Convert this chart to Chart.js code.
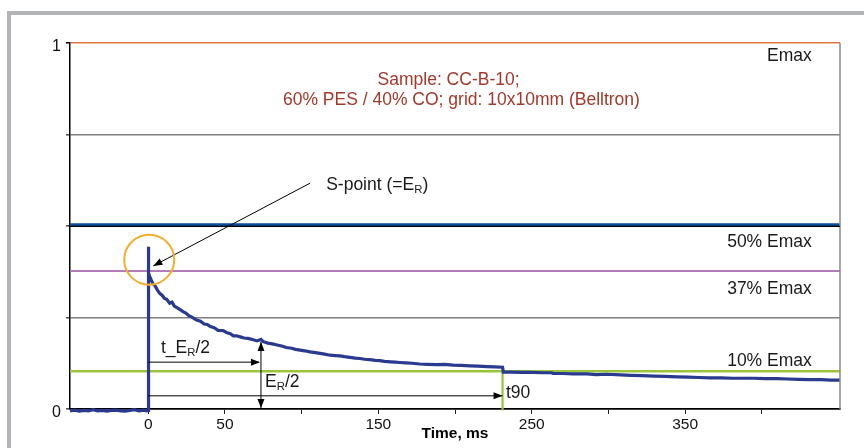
<!DOCTYPE html>
<html>
<head>
<meta charset="utf-8">
<script src="https://cdn.jsdelivr.net/npm/chart.js@4.4.1/dist/chart.umd.min.js"></script>
<style>
  html, body { margin: 0; padding: 0; background: #fff; }
  #wrap { width: 864px; height: 448px; }
</style>
</head>
<body>
<div id="wrap"><canvas id="chart" width="864" height="448"></canvas></div>
<script>
// ── Data ─────────────────────────────────────────────

// time axis of the recorded signal, ms
const timeMs = [
  -51, -48, -45, -42, -39, -36, -33, -30, -27, -24, -21, -18, -15, -12, -9, -6, -3, -1, 0, 0, 0.4,
  1, 2, 3, 4.5, 6, 7.5, 9, 10.5, 12, 14, 15.5, 17, 19, 21, 22.7, 24.5, 26.5, 28.5, 31.5, 34,
  36.5, 38.5, 40.5, 43, 45.5, 48.9, 51, 53.5, 55.5, 57.6, 60, 62.5, 65, 68.5, 71, 73.5, 75, 78,
  81, 84, 87, 90, 93.5, 96, 99, 102, 105.5, 109, 112, 115, 118.5, 122, 125, 128, 131.5, 135,
  138, 141, 144.5, 148, 151, 154, 158, 161, 164, 168, 172, 177, 182, 188, 193, 199, 204, 210,
  215, 221, 226, 231, 231.5, 237, 243, 250, 257, 263, 264, 270, 277, 286, 292, 299, 308, 315,
  322, 330, 337, 345, 352, 359, 366, 373.5, 381, 388, 395, 402, 410, 417, 424, 431, 439, 445, 451,
];
// relative field strength E/Emax
const fieldRel = [
  -0.005, -0.003, -0.006, -0.004, -0.005, -0.002, -0.005, -0.004, -0.006, -0.004, -0.003, -0.005, -0.006, -0.004, -0.002, -0.005, -0.003, -0.005, -0.004, 0.443, 0.371,
  0.362, 0.352, 0.343, 0.336, 0.325, 0.316, 0.311, 0.303, 0.300, 0.289, 0.292, 0.281, 0.276, 0.271, 0.266, 0.262, 0.255, 0.251, 0.243, 0.240,
  0.232, 0.231, 0.225, 0.222, 0.215, 0.214, 0.209, 0.206, 0.200, 0.200, 0.197, 0.194, 0.193, 0.189, 0.186, 0.190, 0.184, 0.180,
  0.178, 0.175, 0.172, 0.168, 0.166, 0.163, 0.161, 0.159, 0.156, 0.154, 0.152, 0.150, 0.147, 0.146, 0.145, 0.143, 0.141, 0.139,
  0.138, 0.136, 0.135, 0.133, 0.132, 0.130, 0.129, 0.128, 0.127, 0.126, 0.125, 0.123, 0.122, 0.121, 0.122, 0.120, 0.119, 0.118,
  0.117, 0.116, 0.115, 0.114, 0.101, 0.101, 0.100, 0.100, 0.099, 0.099, 0.097, 0.097, 0.096, 0.096, 0.094, 0.095, 0.093, 0.092,
  0.091, 0.090, 0.089, 0.088, 0.087, 0.086, 0.085, 0.085, 0.084, 0.084, 0.084, 0.083, 0.083, 0.082, 0.081, 0.080, 0.080, 0.079, 0.079,
];

const xRange = [-51, 451];          // ms, full plot width
const xTicks = [0, 50, 100, 150, 200, 250, 300, 350, 400];
const xLabels = [0, 50, 150, 250, 350];
const yLabels = [0, 1];
const level50 = 0.504;              // 50% Emax (blue)
const level37 = 0.377;              // 37% Emax (purple)
const level10 = 0.103;              // 10% Emax (green)
const t90 = 231;                    // ms
const tHalf = 73.5;                 // t_ER/2, ms
const halfER = 0.183;               // ER/2 level at tHalf

const FONT = '"Liberation Sans", Arial, sans-serif';

// ── Drawing helpers ──────────────────────────────────

function seg(ctx, x1, y1, x2, y2) {
  ctx.beginPath(); ctx.moveTo(x1, y1); ctx.lineTo(x2, y2); ctx.stroke();
}

function head(ctx, x1, y1, x2, y2) {
  const a = Math.atan2(y2 - y1, x2 - x1), L = 9, W = 3.5;
  ctx.beginPath();
  ctx.moveTo(x2, y2);
  ctx.lineTo(x2 - L * Math.cos(a) + W * Math.sin(a), y2 - L * Math.sin(a) - W * Math.cos(a));
  ctx.lineTo(x2 - L * Math.cos(a) - W * Math.sin(a), y2 - L * Math.sin(a) + W * Math.cos(a));
  ctx.closePath(); ctx.fill();
}

// parts: [text, isSubscript]
function rich(ctx, parts, x, y, size) {
  let cx = x;
  parts.forEach(([t, sub]) => {
    ctx.font = `${sub ? size * 0.65 : size}px ${FONT}`;
    ctx.fillText(t, cx, sub ? y + size * 0.28 : y);
    cx += ctx.measureText(t).width;
  });
}

const decor = {
  id: 'decor',
  beforeDraw(chart) {
    const ctx = chart.ctx;
    ctx.save();
    ctx.fillStyle = '#fff';
    ctx.fillRect(0, 0, chart.width, chart.height);
    ctx.strokeStyle = '#b3b4b7';
    ctx.lineWidth = 4;
    ctx.strokeRect(9, 13, chart.width + 20, chart.height + 20);
    ctx.restore();
  },
  afterDatasetsDraw(chart) {
    const { ctx, chartArea: a, scales: { x, y } } = chart;
    const px = t => x.getPixelForValue(t), py = v => y.getPixelForValue(v);
    ctx.save();

    // right edge of the plot
    ctx.strokeStyle = '#8a8a8a'; ctx.lineWidth = 1.5;
    seg(ctx, a.right, a.top, a.right, a.bottom);

    // black rule under the blue 50% line
    ctx.strokeStyle = '#000'; ctx.lineWidth = 1;
    seg(ctx, a.left, py(0.5) + 0.5, a.right, py(0.5) + 0.5);

    // measurement arrows
    ctx.fillStyle = '#000';
    seg(ctx, px(0), py(0.128), px(tHalf) - 2, py(0.128));
    head(ctx, px(0), py(0.128), px(tHalf) - 1, py(0.128));
    seg(ctx, px(0), py(0.036), px(t90), py(0.036));
    head(ctx, px(0), py(0.036), px(t90), py(0.036));
    seg(ctx, px(tHalf), py(halfER), px(tHalf), py(0.003));
    head(ctx, px(tHalf), py(0.05), px(tHalf), py(halfER));
    head(ctx, px(tHalf), py(0.1), px(tHalf), py(0.003));

    // S-point pointer
    seg(ctx, px(105.5), py(0.617), px(3.3), py(0.391));
    head(ctx, px(105.5), py(0.617), px(3.3), py(0.391));

    // S-point circle
    ctx.strokeStyle = '#f5ad2c'; ctx.lineWidth = 2;
    ctx.beginPath(); ctx.arc(px(0.65), py(0.408), 25, 0, Math.PI * 2); ctx.stroke();

    // texts
    const S = 17.5;
    ctx.textBaseline = 'middle';
    ctx.fillStyle = '#a3392b';
    ctx.textAlign = 'center';
    ctx.font = `${S}px ${FONT}`;
    ctx.fillText('Sample: CC-B-10;', px(195.8), py(0.899));
    ctx.fillText('60% PES / 40% CO; grid: 10x10mm (Belltron)', px(204.2), py(0.844));

    ctx.fillStyle = '#1a1a1a';
    ctx.textAlign = 'right';
    ctx.fillText('Emax', px(432.6), py(0.964));
    ctx.fillText('50% Emax', px(432.6), py(0.456));
    ctx.fillText('37% Emax', px(432.6), py(0.328));
    ctx.fillText('10% Emax', px(432.6), py(0.131));

    ctx.textAlign = 'left';
    rich(ctx, [['S-point (=E', false], ['R', true], [')', false]], px(116), py(0.612), S);
    rich(ctx, [['t_E', false], ['R', true], ['/2', false]], px(8.3), py(0.167), S);
    rich(ctx, [['E', false], ['R', true], ['/2', false]], px(76.2), py(0.074), S);
    rich(ctx, [['t90', false]], px(233.2), py(0.044), S);

    ctx.restore();
  },
};

// ── Chart ────────────────────────────────────────────

const flat = v => xRange.map(t => ({ x: t, y: v }));

new Chart(document.getElementById('chart'), {
  type: 'line',
  data: {
    datasets: [
      { label: 'E/Emax', data: timeMs.map((t, i) => ({ x: t, y: fieldRel[i] })),
        borderColor: '#2a3a8e', borderWidth: 3.2, pointRadius: 0, tension: 0, clip: 6 },
      { label: 't90', data: [{ x: t90, y: -0.004 }, { x: t90, y: level10 }],
        borderColor: '#9ac43c', borderWidth: 2.2, pointRadius: 0, clip: 6 },
      { label: '10%', data: flat(level10), borderColor: '#9ac43c', borderWidth: 2.4, pointRadius: 0 },
      { label: '37%', data: flat(level37), borderColor: '#b27db6', borderWidth: 2, pointRadius: 0 },
      { label: '50%', data: flat(level50), borderColor: '#0b4c9c', borderWidth: 2.4, pointRadius: 0 },
    ],
  },
  options: {
    responsive: false, animation: false, devicePixelRatio: 1,
    layout: { padding: { left: 0, top: 43, right: 24, bottom: 0 } },
    plugins: { legend: { display: false }, tooltip: { enabled: false } },
    scales: {
      x: {
        type: 'linear', min: xRange[0], max: xRange[1],
        afterBuildTicks: s => { s.ticks = xTicks.map(v => ({ value: v })); },
        afterFit: s => { s.height = 39; },
        ticks: {
          autoSkip: false, maxRotation: 0, padding: 1,
          color: '#111', font: { family: FONT, size: 15.5 },
          callback: v => xLabels.includes(v) ? String(v) : '',
        },
        grid: { drawOnChartArea: false, drawTicks: true, tickLength: 5, tickColor: '#222' },
        border: { color: '#000', width: 1.5 },
        title: {
          display: true, text: 'Time, ms', color: '#000',
          font: { family: FONT, size: 15.5, weight: 'bold' }, padding: { top: 0, bottom: 5 },
        },
      },
      y: {
        min: 0, max: 1,
        afterFit: s => { s.width = 70; },
        ticks: {
          stepSize: 0.25, padding: 5, labelOffset: 4,
          color: '#111', font: { family: FONT, size: 16 },
          callback: v => yLabels.includes(v) ? String(v) : '',
        },
        grid: {
          tickLength: 4, lineWidth: 1.6,
          color: c => c.tick.value === 1 ? '#e2743f' : (c.tick.value === 0.5 || c.tick.value === 0) ? '#000' : '#7f7f7f',
          tickColor: c => c.tick.value === 1 ? '#000' : '#555',
        },
        border: { color: '#000', width: 1.5 },
      },
    },
  },
  plugins: [decor],
});
</script>
</body>
</html>
